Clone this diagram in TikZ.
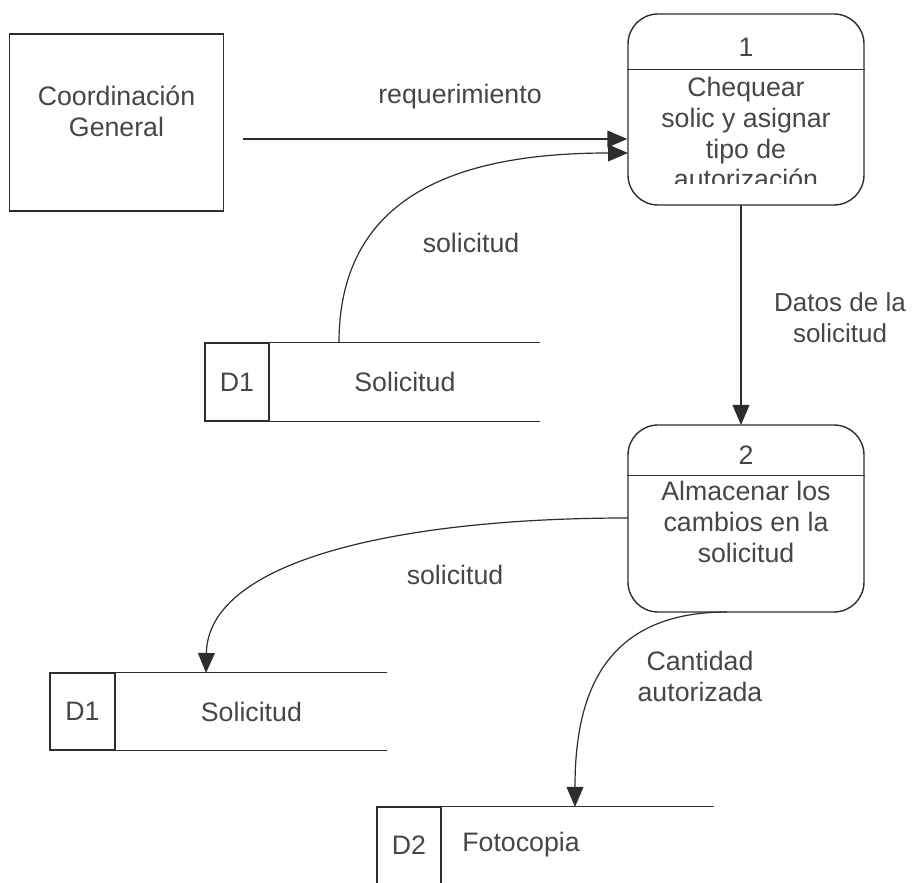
\documentclass[tikz,border=0pt]{standalone}
\usepackage{fontspec}
\setmainfont{Liberation Sans}
\usepackage{tikz}
\usetikzlibrary{arrows.meta}
\usetikzlibrary{positioning}

\definecolor{LINE_GRAY}{RGB}{45, 45, 45}
\definecolor{TEXT_GRAY}{RGB}{70, 70, 70}

\tikzset{
	dfd/.style={x=0.25mm, y=-0.25mm, line width=0.35mm, draw=LINE_GRAY,
		>={Triangle[length=5mm, width=4.2mm]},
		font=\fontsize{19}{22}\selectfont, text=TEXT_GRAY},
	entity/.style={draw, minimum width=53.5mm, minimum height=44.25mm},
	proc/.style={draw, rounded corners=7.5mm, minimum width=59mm},
	ptitle/.style={inner sep=0pt, minimum width=59mm},
	ptext/.style={align=center, inner sep=0pt},
	sid/.style={draw, inner sep=0pt, minimum width=16mm},
	sname/.style={inner sep=0pt, right=0pt of #1},
	flowlabel/.style={align=center, inner sep=1pt},
}

\begin{document}
\begin{tikzpicture}[dfd]
				\useasboundingbox (0,0) rectangle (912,883);
				\clip (0,0) rectangle (912,883);
				% external entity
				\node[entity] (cg) at (116.5,122.5) {};
				\node[ptext] (cgt) at (116.5,111) {Coordinación\\General};
				% processes
				\node[proc, minimum height=47.75mm] (p1) at (746,109.5) {};
				\node[ptitle, minimum height=11mm] (n1) at (746,47) {1};
				\draw (p1.west |- n1.south) -- (p1.east |- n1.south);
				\begin{scope}
					\clip (628,69) rectangle (864,184);
					\node[ptext] (t1) at (746,133) {Chequear\\solic y asignar\\tipo de\\autorización};
				\end{scope}
				\node[proc, minimum height=46.75mm] (p2) at (746,518.5) {};
				\node[ptitle, minimum height=10mm] (n2) at (746,455) {2};
				\draw (p2.west |- n2.south) -- (p2.east |- n2.south);
				\node[ptext] (t2) at (746,522) {Almacenar los\\cambios en la\\solicitud};
				% data stores
				\node[sid, minimum height=19.5mm] (d1a) at (237,382) {D1};
				\node[sname=d1a, minimum width=67.25mm, minimum height=19.5mm] (d1b) {Solicitud};
				\draw (d1b.north west) -- (d1b.north east);
				\draw (d1b.south west) -- (d1b.south east);
				\node[sid, minimum width=16.25mm, minimum height=19.25mm] (d3a) at (82.5,711.5) {D1};
				\node[sname=d3a, minimum width=67.5mm, minimum height=19.25mm] (d3b) {Solicitud};
				\draw (d3b.north west) -- (d3b.north east);
				\draw (d3b.south west) -- (d3b.south east);
				\node[sid, minimum height=20mm] (d2a) at (409,847) {};
				\node[inner sep=0pt] (d2id) at (409,845) {D2};
				\node[sname=d2a, minimum width=67.75mm, minimum height=20mm] (d2b) {};
				\node[inner sep=0pt] (d2t) at (521,845) {Fotocopia};
				\draw (d2b.north west) -- (d2b.north east);
				% flows
				\coordinate (r0) at (243,139);
				\draw[->] (r0) -- (p1.west |- r0);
				\node[flowlabel] (l1) at (460,97) {requerimiento};
				\coordinate (s0) at (339,343);
				\coordinate (s1) at (628,153);
				\draw[->, line width=0.3mm] (s0) .. controls (339,200) and (450,153) .. (s1);
				\node[flowlabel] (l2) at (471,243) {solicitud};
				\draw[->, line width=0.3mm] (741,205) -- (741,425);
				\node[flowlabel, font=\fontsize{18.5}{22}\selectfont] (l3) at (840,318) {Datos de la\\solicitud};
				\coordinate (a0) at (628,518);
				\coordinate (a1) at (206,673);
				\draw[->, line width=0.3mm] (a0) .. controls (400,518) and (208,560) .. (a1);
				\node[flowlabel] (l4) at (455,575) {solicitud};
				\coordinate (c0) at (727,612);
				\coordinate (c1) at (575,807);
				\draw[->, line width=0.3mm] (c0) .. controls (600,612) and (575,700) .. (c1);
				\node[flowlabel] (l5) at (700,676) {Cantidad\\autorizada};
\end{tikzpicture}
\end{document}
